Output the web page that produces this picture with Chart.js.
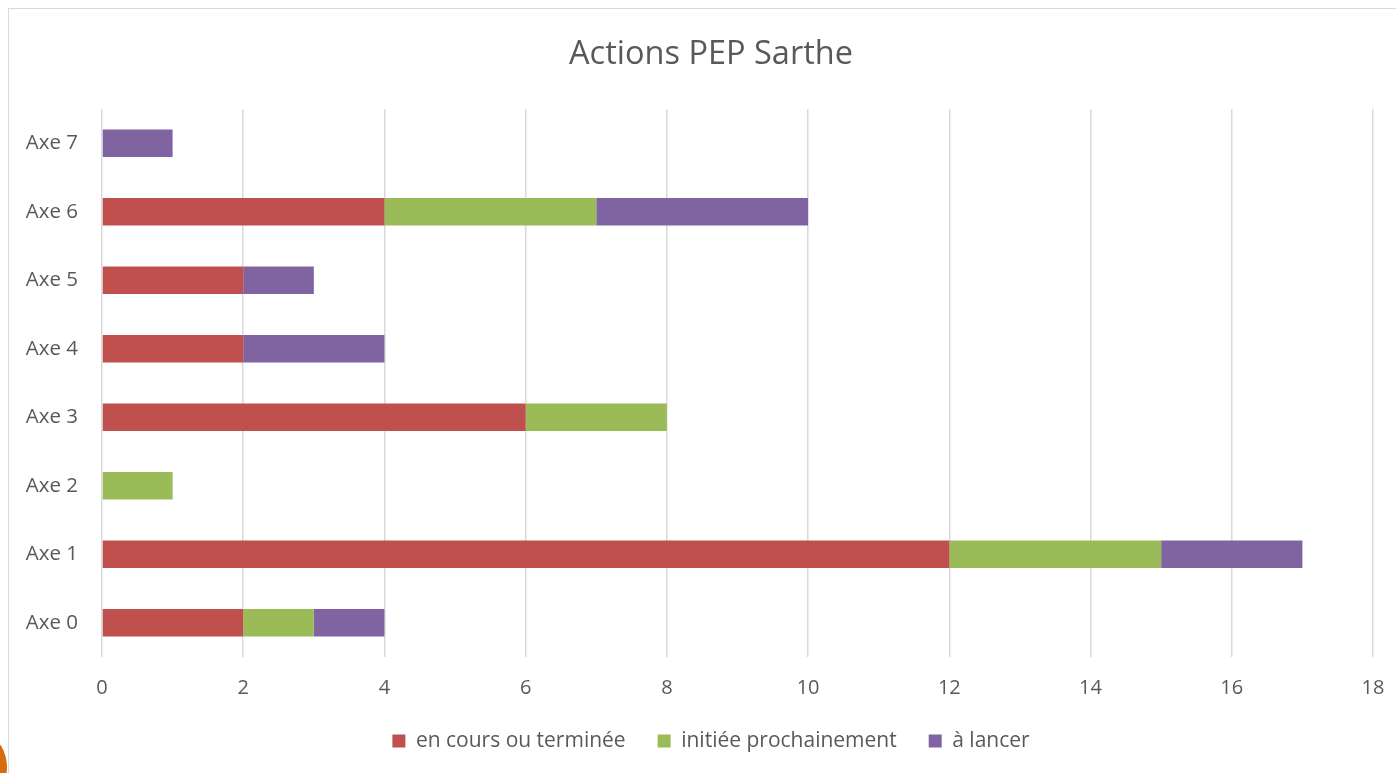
<!DOCTYPE html>
<html lang="fr">
  <head>
    <meta charset="UTF-8" />
    <title>Actions PEP Sarthe</title>
    <style>
      html,
      body {
        margin: 0;
        padding: 0;
        background: #fff;
        overflow: hidden;
      }

      .frame {
        position: absolute;
        left: 8px;
        top: 8px;
        width: 1500px;
        height: 900px;
        border: 1.5px solid #d9d9d9;
        box-sizing: border-box;
      }

      .blob {
        position: absolute;
        left: -30px;
        top: 738px;
        width: 37px;
        height: 60px;
        border-radius: 50%;
        background: #d86a12;
      }

      .chart-box {
        position: absolute;
        left: 0;
        top: 0;
        width: 1422px;
        height: 773px;
      }
    </style>
  </head>
  <body>
    <div class="frame"></div>
    <div class="blob"></div>
    <div class="chart-box">
      <canvas id="chart"></canvas>
    </div>

    <script src="https://cdn.jsdelivr.net/npm/chart.js"></script>

    <script>
      const categories = ["Axe 0", "Axe 1", "Axe 2", "Axe 3", "Axe 4", "Axe 5", "Axe 6", "Axe 7"];

      const enCours = [2, 12, 0, 6, 2, 2, 4, 0];
      const initiee = [1, 3, 1, 2, 0, 0, 3, 0];
      const aLancer = [1, 2, 0, 0, 2, 1, 3, 1];

      const xTicks = [0, 2, 4, 6, 8, 10, 12, 14, 16, 18];

      const textColor = "#595959";
      const fontFamily = "'Open Sans', sans-serif";

      Chart.defaults.font.family = fontFamily;
      Chart.defaults.color = textColor;

      new Chart(document.getElementById("chart"), {
        type: "bar",
        data: {
          labels: categories,
          datasets: [
            {
              label: "en cours ou terminée",
              data: enCours,
              backgroundColor: "#c0504d",
            },
            {
              label: "initiée prochainement",
              data: initiee,
              backgroundColor: "#9bbb59",
            },
            {
              label: "à lancer",
              data: aLancer,
              backgroundColor: "#8064a2",
            },
          ],
        },
        options: {
          indexAxis: "y",
          responsive: true,
          maintainAspectRatio: false,
          animation: false,
          categoryPercentage: 1,
          barPercentage: 0.4,
          layout: {
            padding: { left: 0, right: 0, top: 0, bottom: 11.5 },
          },
          scales: {
            x: {
              stacked: true,
              min: 0,
              max: 18,
              afterBuildTicks: (axis) => {
                axis.ticks = xTicks.map((v) => ({ value: v }));
              },
              afterFit: (axis) => {
                axis.height = 41.5;
              },
              grid: {
                color: "#d9d9d9",
                lineWidth: 1.5,
                drawTicks: false,
              },
              border: { display: false },
              ticks: {
                padding: 19,
                font: { size: 20 },
                color: textColor,
              },
            },
            y: {
              stacked: true,
              reverse: true,
              grid: { display: false },
              border: { display: false },
              afterFit: (axis) => {
                axis.width = 102;
              },
              ticks: {
                padding: 16,
                font: { size: 20.5 },
                color: textColor,
              },
            },
            // empty spacer on the right so the title stays centred on the frame
            yRight: {
              type: "linear",
              position: "right",
              grid: { display: false },
              border: { display: false },
              ticks: { display: false },
              afterFit: (axis) => {
                axis.width = 49;
              },
            },
          },
          plugins: {
            title: {
              display: true,
              text: "Actions PEP Sarthe",
              color: textColor,
              font: { size: 32.5, weight: "normal" },
              padding: { top: 35, bottom: 35 },
            },
            legend: {
              position: "bottom",
              labels: {
                boxWidth: 13,
                boxHeight: 13,
                padding: 32,
                font: { size: 21 },
                color: textColor,
              },
            },
            tooltip: { enabled: false },
          },
        },
      });
    </script>
  </body>
</html>
